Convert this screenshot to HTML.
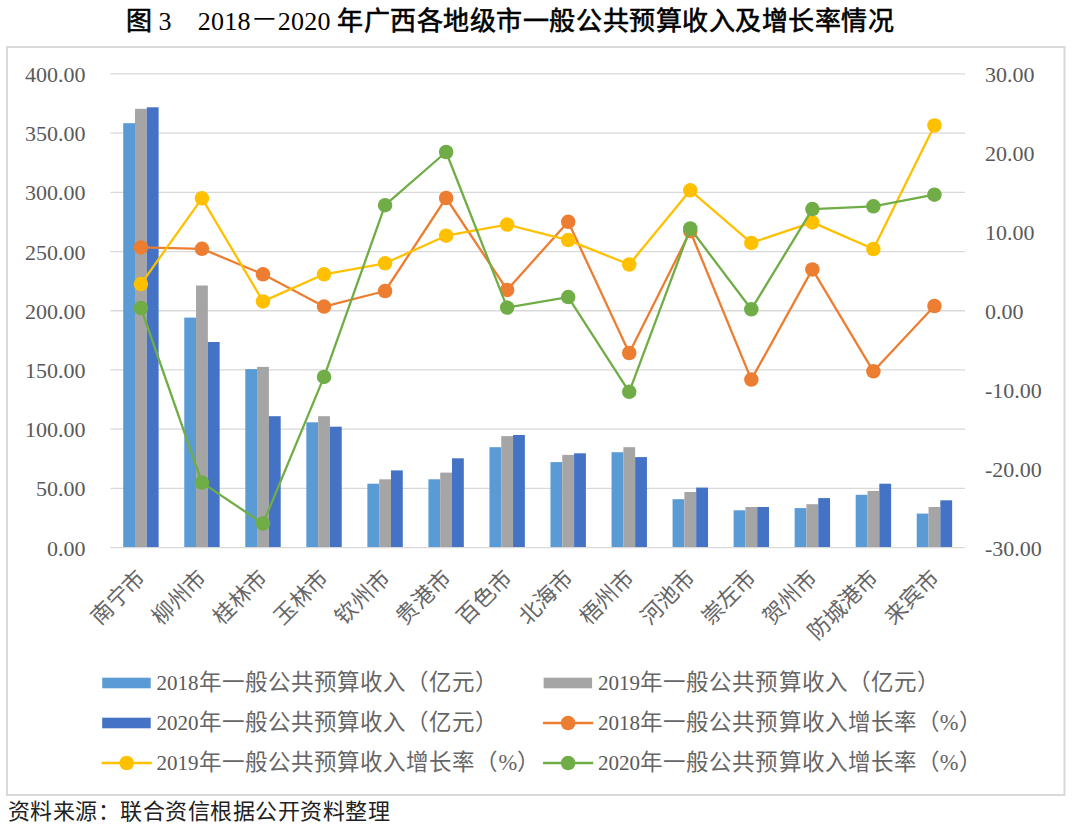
<!DOCTYPE html><html lang="zh-CN"><head><meta charset="utf-8"><title>图3 2018-2020年广西各地级市一般公共预算收入及增长率情况</title><style>html,body{margin:0;padding:0;background:#fff;width:1080px;height:831px;overflow:hidden}svg{display:block}.s{font-family:"Liberation Serif",serif}.h{font-family:"Liberation Sans",sans-serif}</style></head><body>
<svg width="1080" height="831" viewBox="0 0 1080 831">
<rect x="0" y="0" width="1080" height="831" fill="#fff"/>
<text class="h" x="126.00" y="29.6" font-size="26" fill="#000" stroke="#000" stroke-width="0.6">图</text>
<text class="s" x="158.5" y="29.6" font-size="26" fill="#000">3</text>
<text class="s" x="197.8" y="29.6" font-size="26" fill="#000" textLength="52.6" lengthAdjust="spacing">2018</text>
<rect x="254.4" y="18.0" width="20" height="1.7" fill="#000"/>
<text class="s" x="277.8" y="29.6" font-size="26" fill="#000" textLength="52.6" lengthAdjust="spacing">2020</text>
<text class="h" x="337.00 363.55 390.10 416.65 443.20 469.75 496.30 522.85 549.40 575.95 602.50 629.05 655.60 682.15 708.70 735.25 761.80 788.35 814.90 841.45 868.00" y="29.6" font-size="26" fill="#000" stroke="#000" stroke-width="0.6">年广西各地级市一般公共预算收入及增长率情况</text>
<rect x="7" y="47" width="1057.5" height="748" fill="none" stroke="#D9D9D9" stroke-width="2"/>
<line x1="110.4" y1="73.93" x2="965" y2="73.93" stroke="#D9D9D9" stroke-width="1.3"/>
<line x1="110.4" y1="133.14" x2="965" y2="133.14" stroke="#D9D9D9" stroke-width="1.3"/>
<line x1="110.4" y1="192.35" x2="965" y2="192.35" stroke="#D9D9D9" stroke-width="1.3"/>
<line x1="110.4" y1="251.56" x2="965" y2="251.56" stroke="#D9D9D9" stroke-width="1.3"/>
<line x1="110.4" y1="310.76" x2="965" y2="310.76" stroke="#D9D9D9" stroke-width="1.3"/>
<line x1="110.4" y1="369.97" x2="965" y2="369.97" stroke="#D9D9D9" stroke-width="1.3"/>
<line x1="110.4" y1="429.18" x2="965" y2="429.18" stroke="#D9D9D9" stroke-width="1.3"/>
<line x1="110.4" y1="488.39" x2="965" y2="488.39" stroke="#D9D9D9" stroke-width="1.3"/>
<line x1="110.4" y1="547.60" x2="965" y2="547.60" stroke="#D9D9D9" stroke-width="1.3"/>
<text class="s" x="85.4" y="82.03" font-size="22" fill="#595959" text-anchor="end">400.00</text>
<text class="s" x="85.4" y="141.24" font-size="22" fill="#595959" text-anchor="end">350.00</text>
<text class="s" x="85.4" y="200.45" font-size="22" fill="#595959" text-anchor="end">300.00</text>
<text class="s" x="85.4" y="259.66" font-size="22" fill="#595959" text-anchor="end">250.00</text>
<text class="s" x="85.4" y="318.87" font-size="22" fill="#595959" text-anchor="end">200.00</text>
<text class="s" x="85.4" y="378.07" font-size="22" fill="#595959" text-anchor="end">150.00</text>
<text class="s" x="85.4" y="437.28" font-size="22" fill="#595959" text-anchor="end">100.00</text>
<text class="s" x="85.4" y="496.49" font-size="22" fill="#595959" text-anchor="end">50.00</text>
<text class="s" x="85.4" y="555.70" font-size="22" fill="#595959" text-anchor="end">0.00</text>
<text class="s" x="985" y="82.03" font-size="22" fill="#595959">30.00</text>
<text class="s" x="985" y="160.97" font-size="22" fill="#595959">20.00</text>
<text class="s" x="985" y="239.92" font-size="22" fill="#595959">10.00</text>
<text class="s" x="985" y="318.87" font-size="22" fill="#595959">0.00</text>
<text class="s" x="985" y="397.81" font-size="22" fill="#595959">-10.00</text>
<text class="s" x="985" y="476.76" font-size="22" fill="#595959">-20.00</text>
<text class="s" x="985" y="555.70" font-size="22" fill="#595959">-30.00</text>
<rect x="123.22" y="123.20" width="11.80" height="423.80" fill="#5B9BD5"/>
<rect x="135.02" y="108.80" width="11.80" height="438.20" fill="#A5A5A5"/>
<rect x="146.82" y="107.30" width="11.80" height="439.70" fill="#4472C4"/>
<rect x="184.26" y="317.60" width="11.80" height="229.40" fill="#5B9BD5"/>
<rect x="196.06" y="285.50" width="11.80" height="261.50" fill="#A5A5A5"/>
<rect x="207.86" y="342.00" width="11.80" height="205.00" fill="#4472C4"/>
<rect x="245.30" y="369.10" width="11.80" height="177.90" fill="#5B9BD5"/>
<rect x="257.10" y="366.90" width="11.80" height="180.10" fill="#A5A5A5"/>
<rect x="268.90" y="416.20" width="11.80" height="130.80" fill="#4472C4"/>
<rect x="306.34" y="422.30" width="11.80" height="124.70" fill="#5B9BD5"/>
<rect x="318.14" y="416.20" width="11.80" height="130.80" fill="#A5A5A5"/>
<rect x="329.94" y="426.70" width="11.80" height="120.30" fill="#4472C4"/>
<rect x="367.38" y="483.70" width="11.80" height="63.30" fill="#5B9BD5"/>
<rect x="379.18" y="479.30" width="11.80" height="67.70" fill="#A5A5A5"/>
<rect x="390.98" y="470.40" width="11.80" height="76.60" fill="#4472C4"/>
<rect x="428.42" y="479.30" width="11.80" height="67.70" fill="#5B9BD5"/>
<rect x="440.22" y="472.60" width="11.80" height="74.40" fill="#A5A5A5"/>
<rect x="452.02" y="458.30" width="11.80" height="88.70" fill="#4472C4"/>
<rect x="489.46" y="447.20" width="11.80" height="99.80" fill="#5B9BD5"/>
<rect x="501.26" y="436.10" width="11.80" height="110.90" fill="#A5A5A5"/>
<rect x="513.06" y="435.00" width="11.80" height="112.00" fill="#4472C4"/>
<rect x="550.50" y="462.10" width="11.80" height="84.90" fill="#5B9BD5"/>
<rect x="562.30" y="454.90" width="11.80" height="92.10" fill="#A5A5A5"/>
<rect x="574.10" y="453.30" width="11.80" height="93.70" fill="#4472C4"/>
<rect x="611.54" y="452.20" width="11.80" height="94.80" fill="#5B9BD5"/>
<rect x="623.34" y="447.20" width="11.80" height="99.80" fill="#A5A5A5"/>
<rect x="635.14" y="457.10" width="11.80" height="89.90" fill="#4472C4"/>
<rect x="672.58" y="499.20" width="11.80" height="47.80" fill="#5B9BD5"/>
<rect x="684.38" y="492.00" width="11.80" height="55.00" fill="#A5A5A5"/>
<rect x="696.18" y="487.60" width="11.80" height="59.40" fill="#4472C4"/>
<rect x="733.62" y="510.30" width="11.80" height="36.70" fill="#5B9BD5"/>
<rect x="745.42" y="507.00" width="11.80" height="40.00" fill="#A5A5A5"/>
<rect x="757.22" y="507.00" width="11.80" height="40.00" fill="#4472C4"/>
<rect x="794.66" y="508.10" width="11.80" height="38.90" fill="#5B9BD5"/>
<rect x="806.46" y="504.20" width="11.80" height="42.80" fill="#A5A5A5"/>
<rect x="818.26" y="498.10" width="11.80" height="48.90" fill="#4472C4"/>
<rect x="855.70" y="494.80" width="11.80" height="52.20" fill="#5B9BD5"/>
<rect x="867.50" y="490.90" width="11.80" height="56.10" fill="#A5A5A5"/>
<rect x="879.30" y="483.70" width="11.80" height="63.30" fill="#4472C4"/>
<rect x="916.74" y="513.60" width="11.80" height="33.40" fill="#5B9BD5"/>
<rect x="928.54" y="507.00" width="11.80" height="40.00" fill="#A5A5A5"/>
<rect x="940.34" y="500.30" width="11.80" height="46.70" fill="#4472C4"/>
<polyline points="140.92,247.40 201.96,248.80 263.00,274.30 324.04,306.60 385.08,291.00 446.12,198.00 507.16,289.90 568.20,221.80 629.24,353.00 690.28,231.20 751.32,379.60 812.36,269.40 873.40,371.30 934.44,306.00" fill="none" stroke="#ED7D31" stroke-width="2.3" stroke-linejoin="round"/>
<circle cx="140.92" cy="247.40" r="7.25" fill="#ED7D31"/>
<circle cx="201.96" cy="248.80" r="7.25" fill="#ED7D31"/>
<circle cx="263.00" cy="274.30" r="7.25" fill="#ED7D31"/>
<circle cx="324.04" cy="306.60" r="7.25" fill="#ED7D31"/>
<circle cx="385.08" cy="291.00" r="7.25" fill="#ED7D31"/>
<circle cx="446.12" cy="198.00" r="7.25" fill="#ED7D31"/>
<circle cx="507.16" cy="289.90" r="7.25" fill="#ED7D31"/>
<circle cx="568.20" cy="221.80" r="7.25" fill="#ED7D31"/>
<circle cx="629.24" cy="353.00" r="7.25" fill="#ED7D31"/>
<circle cx="690.28" cy="231.20" r="7.25" fill="#ED7D31"/>
<circle cx="751.32" cy="379.60" r="7.25" fill="#ED7D31"/>
<circle cx="812.36" cy="269.40" r="7.25" fill="#ED7D31"/>
<circle cx="873.40" cy="371.30" r="7.25" fill="#ED7D31"/>
<circle cx="934.44" cy="306.00" r="7.25" fill="#ED7D31"/>
<polyline points="140.92,284.10 201.96,198.30 263.00,301.40 324.04,274.30 385.08,263.30 446.12,235.70 507.16,224.60 568.20,240.10 629.24,264.50 690.28,190.30 751.32,242.90 812.36,222.40 873.40,249.00 934.44,125.50" fill="none" stroke="#FFC000" stroke-width="2.3" stroke-linejoin="round"/>
<circle cx="140.92" cy="284.10" r="7.25" fill="#FFC000"/>
<circle cx="201.96" cy="198.30" r="7.25" fill="#FFC000"/>
<circle cx="263.00" cy="301.40" r="7.25" fill="#FFC000"/>
<circle cx="324.04" cy="274.30" r="7.25" fill="#FFC000"/>
<circle cx="385.08" cy="263.30" r="7.25" fill="#FFC000"/>
<circle cx="446.12" cy="235.70" r="7.25" fill="#FFC000"/>
<circle cx="507.16" cy="224.60" r="7.25" fill="#FFC000"/>
<circle cx="568.20" cy="240.10" r="7.25" fill="#FFC000"/>
<circle cx="629.24" cy="264.50" r="7.25" fill="#FFC000"/>
<circle cx="690.28" cy="190.30" r="7.25" fill="#FFC000"/>
<circle cx="751.32" cy="242.90" r="7.25" fill="#FFC000"/>
<circle cx="812.36" cy="222.40" r="7.25" fill="#FFC000"/>
<circle cx="873.40" cy="249.00" r="7.25" fill="#FFC000"/>
<circle cx="934.44" cy="125.50" r="7.25" fill="#FFC000"/>
<polyline points="140.92,308.00 201.96,482.60 263.00,523.60 324.04,376.90 385.08,205.20 446.12,152.00 507.16,307.60 568.20,297.10 629.24,391.80 690.28,228.50 751.32,309.30 812.36,209.10 873.40,206.30 934.44,194.70" fill="none" stroke="#70AD47" stroke-width="2.3" stroke-linejoin="round"/>
<circle cx="140.92" cy="308.00" r="7.25" fill="#70AD47"/>
<circle cx="201.96" cy="482.60" r="7.25" fill="#70AD47"/>
<circle cx="263.00" cy="523.60" r="7.25" fill="#70AD47"/>
<circle cx="324.04" cy="376.90" r="7.25" fill="#70AD47"/>
<circle cx="385.08" cy="205.20" r="7.25" fill="#70AD47"/>
<circle cx="446.12" cy="152.00" r="7.25" fill="#70AD47"/>
<circle cx="507.16" cy="307.60" r="7.25" fill="#70AD47"/>
<circle cx="568.20" cy="297.10" r="7.25" fill="#70AD47"/>
<circle cx="629.24" cy="391.80" r="7.25" fill="#70AD47"/>
<circle cx="690.28" cy="228.50" r="7.25" fill="#70AD47"/>
<circle cx="751.32" cy="309.30" r="7.25" fill="#70AD47"/>
<circle cx="812.36" cy="209.10" r="7.25" fill="#70AD47"/>
<circle cx="873.40" cy="206.30" r="7.25" fill="#70AD47"/>
<circle cx="934.44" cy="194.70" r="7.25" fill="#70AD47"/>
<text class="s" x="146.92" y="579.00" font-size="22" fill="#666" text-anchor="end" transform="rotate(-45 146.92 579.00)">南宁市</text>
<text class="s" x="207.96" y="579.00" font-size="22" fill="#666" text-anchor="end" transform="rotate(-45 207.96 579.00)">柳州市</text>
<text class="s" x="269.00" y="579.00" font-size="22" fill="#666" text-anchor="end" transform="rotate(-45 269.00 579.00)">桂林市</text>
<text class="s" x="330.04" y="579.00" font-size="22" fill="#666" text-anchor="end" transform="rotate(-45 330.04 579.00)">玉林市</text>
<text class="s" x="391.08" y="579.00" font-size="22" fill="#666" text-anchor="end" transform="rotate(-45 391.08 579.00)">钦州市</text>
<text class="s" x="452.12" y="579.00" font-size="22" fill="#666" text-anchor="end" transform="rotate(-45 452.12 579.00)">贵港市</text>
<text class="s" x="513.16" y="579.00" font-size="22" fill="#666" text-anchor="end" transform="rotate(-45 513.16 579.00)">百色市</text>
<text class="s" x="574.20" y="579.00" font-size="22" fill="#666" text-anchor="end" transform="rotate(-45 574.20 579.00)">北海市</text>
<text class="s" x="635.24" y="579.00" font-size="22" fill="#666" text-anchor="end" transform="rotate(-45 635.24 579.00)">梧州市</text>
<text class="s" x="696.28" y="579.00" font-size="22" fill="#666" text-anchor="end" transform="rotate(-45 696.28 579.00)">河池市</text>
<text class="s" x="757.32" y="579.00" font-size="22" fill="#666" text-anchor="end" transform="rotate(-45 757.32 579.00)">崇左市</text>
<text class="s" x="818.36" y="579.00" font-size="22" fill="#666" text-anchor="end" transform="rotate(-45 818.36 579.00)">贺州市</text>
<text class="s" x="879.40" y="579.00" font-size="22" fill="#666" text-anchor="end" transform="rotate(-45 879.40 579.00)">防城港市</text>
<text class="s" x="940.44" y="579.00" font-size="22" fill="#666" text-anchor="end" transform="rotate(-45 940.44 579.00)">来宾市</text>
<rect x="102.2" y="677.7" width="48.5" height="10.6" fill="#5B9BD5"/>
<text class="s" x="156.50" y="690.00" font-size="21" fill="#595959" textLength="42" lengthAdjust="spacing">2018</text><text class="s" x="198.80 221.85 244.90 267.95 291.00 314.05 337.10 360.15 383.20 406.25 429.30 452.35 475.40" y="690.00" font-size="22.5" fill="#666">年一般公共预算收入（亿元）</text>
<rect x="543.6" y="677.7" width="48.5" height="10.6" fill="#A5A5A5"/>
<text class="s" x="597.90" y="690.00" font-size="21" fill="#595959" textLength="42" lengthAdjust="spacing">2019</text><text class="s" x="640.20 663.25 686.30 709.35 732.40 755.45 778.50 801.55 824.60 847.65 870.70 893.75 916.80" y="690.00" font-size="22.5" fill="#666">年一般公共预算收入（亿元）</text>
<rect x="102.2" y="717.7" width="48.5" height="10.6" fill="#4472C4"/>
<text class="s" x="156.50" y="730.00" font-size="21" fill="#595959" textLength="42" lengthAdjust="spacing">2020</text><text class="s" x="198.80 221.85 244.90 267.95 291.00 314.05 337.10 360.15 383.20 406.25 429.30 452.35 475.40" y="730.00" font-size="22.5" fill="#666">年一般公共预算收入（亿元）</text>
<line x1="543.00" y1="723.0" x2="593.20" y2="723.0" stroke="#ED7D31" stroke-width="2.3"/><circle cx="568.10" cy="723.0" r="7.25" fill="#ED7D31"/>
<text class="s" x="597.90" y="730.00" font-size="21" fill="#595959" textLength="42" lengthAdjust="spacing">2018</text><text class="s" x="640.20 663.25 686.30 709.35 732.40 755.45 778.50 801.55 824.60 847.65 870.70 893.75 916.80 939.85 958.85" y="730.00" font-size="22.5" fill="#666">年一般公共预算收入增长率（%）</text>
<line x1="101.60" y1="763.0" x2="151.80" y2="763.0" stroke="#FFC000" stroke-width="2.3"/><circle cx="126.70" cy="763.0" r="7.25" fill="#FFC000"/>
<text class="s" x="156.50" y="770.00" font-size="21" fill="#595959" textLength="42" lengthAdjust="spacing">2019</text><text class="s" x="198.80 221.85 244.90 267.95 291.00 314.05 337.10 360.15 383.20 406.25 429.30 452.35 475.40 498.45 517.45" y="770.00" font-size="22.5" fill="#666">年一般公共预算收入增长率（%）</text>
<line x1="543.00" y1="763.0" x2="593.20" y2="763.0" stroke="#70AD47" stroke-width="2.3"/><circle cx="568.10" cy="763.0" r="7.25" fill="#70AD47"/>
<text class="s" x="597.90" y="770.00" font-size="21" fill="#595959" textLength="42" lengthAdjust="spacing">2020</text><text class="s" x="640.20 663.25 686.30 709.35 732.40 755.45 778.50 801.55 824.60 847.65 870.70 893.75 916.80 939.85 958.85" y="770.00" font-size="22.5" fill="#666">年一般公共预算收入增长率（%）</text>
<text class="s" x="7.90 30.38 52.86 75.34 97.82 120.30 142.78 165.26 187.74 210.22 232.70 255.18 277.66 300.14 322.62 345.10 367.58" y="819" font-size="22" fill="#222">资料来源：联合资信根据公开资料整理</text>
</svg></body></html>
